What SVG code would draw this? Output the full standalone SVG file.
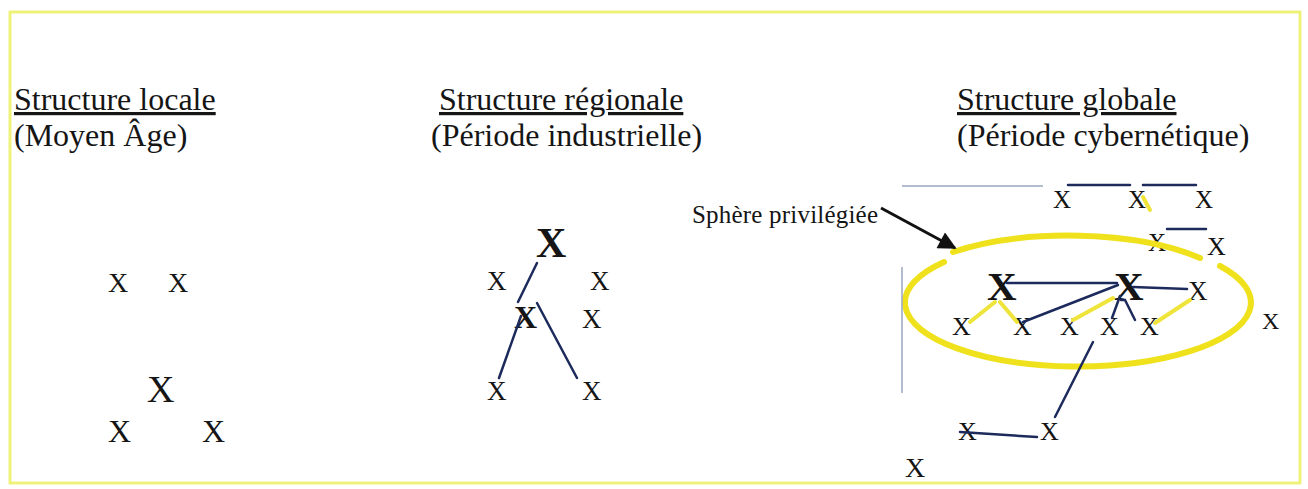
<svg xmlns="http://www.w3.org/2000/svg" width="1308" height="489" viewBox="0 0 1308 489">
<style>
text{font-family:"Liberation Serif","Times New Roman",serif;fill:#151515}
.t{font-size:32px}
.u{text-decoration:underline}
.b{font-weight:bold}
.nv{stroke:#1c2a5c;stroke-width:2.5;fill:none;stroke-linecap:round}
.yl{stroke:#eee43a;stroke-width:4;fill:none;stroke-linecap:round}
.el{stroke:#efe21c;stroke-width:6;fill:none;stroke-linecap:round}
.gr{stroke:#9aa6bf;stroke-width:1.5;fill:none}
</style>
<defs>
<marker id="ah" viewBox="0 0 10 10" refX="9" refY="5" markerWidth="7.5" markerHeight="6" orient="auto" markerUnits="strokeWidth">
<path d="M0,0 L10,5 L0,10 z" fill="#111"/>
</marker>
</defs>
<rect x="0" y="0" width="1308" height="489" fill="#fff"/>
<rect id="frame" x="10" y="12" width="1290" height="471" fill="none" stroke="#eef27a" stroke-width="3"/>

<g id="titles">
<text class="t u" x="14" y="110">Structure locale</text>
<text class="t" x="14" y="146">(Moyen Âge)</text>
<text class="t u" x="439" y="110">Structure régionale</text>
<text class="t" x="431" y="146">(Période industrielle)</text>
<text class="t u" x="957" y="110">Structure globale</text>
<text class="t" x="957" y="146">(Période cybernétique)</text>
</g>

<g id="label-sphere"><text x="692" y="223" font-size="25" textLength="186">Sphère privilégiée</text></g>

<g id="local">
<g id="L1"><text x="108" y="292" font-size="28">X</text></g>
<g id="L2"><text x="168" y="292" font-size="28">X</text></g>
<g id="L3"><text x="147" y="402" font-size="38">X</text></g>
<g id="L4"><text x="108" y="442" font-size="32">X</text></g>
<g id="L5"><text x="202" y="442" font-size="32">X</text></g>
</g>

<g id="regional">
<g id="M1"><text class="b" x="536" y="257" font-size="42">X</text></g>
<g id="M2"><text x="487" y="290" font-size="27">X</text></g>
<g id="M3"><text x="590" y="290" font-size="27">X</text></g>
<g id="M4"><text class="b" x="514" y="328" font-size="32">X</text></g>
<g id="M5"><text x="582" y="328" font-size="27">X</text></g>
<g id="M6"><text x="487" y="400" font-size="27">X</text></g>
<g id="M7"><text x="582" y="400" font-size="27">X</text></g>
</g>

<g id="global">
<g id="G1"><text x="1053" y="208" font-size="25">X</text></g>
<g id="G2"><text x="1128" y="208" font-size="25">X</text></g>
<g id="G3"><text x="1195" y="208" font-size="25">X</text></g>
<g id="G4"><text x="1148" y="251" font-size="25">X</text></g>
<g id="G5"><text x="1207" y="255" font-size="26">X</text></g>
<g id="G6"><text class="b" x="987" y="300" font-size="41">X</text></g>
<g id="G7"><text class="b" x="1114" y="300" font-size="41">X</text></g>
<g id="G8"><text x="1188" y="300" font-size="27">X</text></g>
<g id="G9"><text x="952" y="335" font-size="26">X</text></g>
<g id="G10"><text x="1013" y="335" font-size="26">X</text></g>
<g id="G11"><text x="1060" y="335" font-size="26">X</text></g>
<g id="G12"><text x="1100" y="335" font-size="26">X</text></g>
<g id="G13"><text x="1140" y="335" font-size="26">X</text></g>
<g id="G14"><text x="1262" y="329" font-size="24">X</text></g>
<g id="G15"><text x="958" y="440" font-size="26">X</text></g>
<g id="G16"><text x="1040" y="440" font-size="26">X</text></g>
<g id="G17"><text x="905" y="477" font-size="28">X</text></g>
</g>

<g id="sphere">
<path class="el" d="M953,252 A173,64 0 0 1 1200,258"/>
<path class="el" d="M1220,266 A173,64 0 1 1 944,262"/>
</g>

<g id="connectors">
<line class="nv" x1="537" y1="263" x2="518" y2="302"/>
<line class="nv" x1="499" y1="378" x2="521" y2="316"/>
<line class="nv" x1="537" y1="303" x2="577" y2="378"/>

<line class="gr" x1="902" y1="186" x2="1043" y2="186"/>
<line class="gr" x1="902" y1="267" x2="902" y2="393"/>
<line class="nv" x1="1068" y1="185" x2="1130" y2="185"/>
<line class="nv" stroke="#4d6a9c" stroke-width="3" x1="1143" y1="185" x2="1196" y2="185"/>
<line class="nv" x1="1167" y1="229" x2="1206" y2="229"/>

<line class="nv" x1="1007" y1="283" x2="1117" y2="283"/>
<line class="nv" x1="1023" y1="322" x2="1118" y2="285"/>
<line class="nv" x1="1133" y1="287" x2="1187" y2="289"/>
<line class="nv" x1="1120" y1="296" x2="1112" y2="318"/>
<polyline class="nv" points="1121,300 1125,300 1135,320"/>
<line class="nv" x1="1093" y1="342" x2="1055" y2="417"/>
<line class="nv" x1="960" y1="432" x2="1037" y2="437"/>

<line class="yl" x1="970" y1="322" x2="995" y2="302"/>
<line class="yl" x1="1000" y1="302" x2="1017" y2="322"/>
<line class="yl" x1="1073" y1="320" x2="1113" y2="298"/>
<line class="yl" x1="1155" y1="323" x2="1190" y2="300"/>
<line class="yl" x1="1143" y1="197" x2="1150" y2="210"/>

<line stroke="#111" stroke-width="3" x1="881" y1="208" x2="955" y2="248" marker-end="url(#ah)"/>
</g>
</svg>
